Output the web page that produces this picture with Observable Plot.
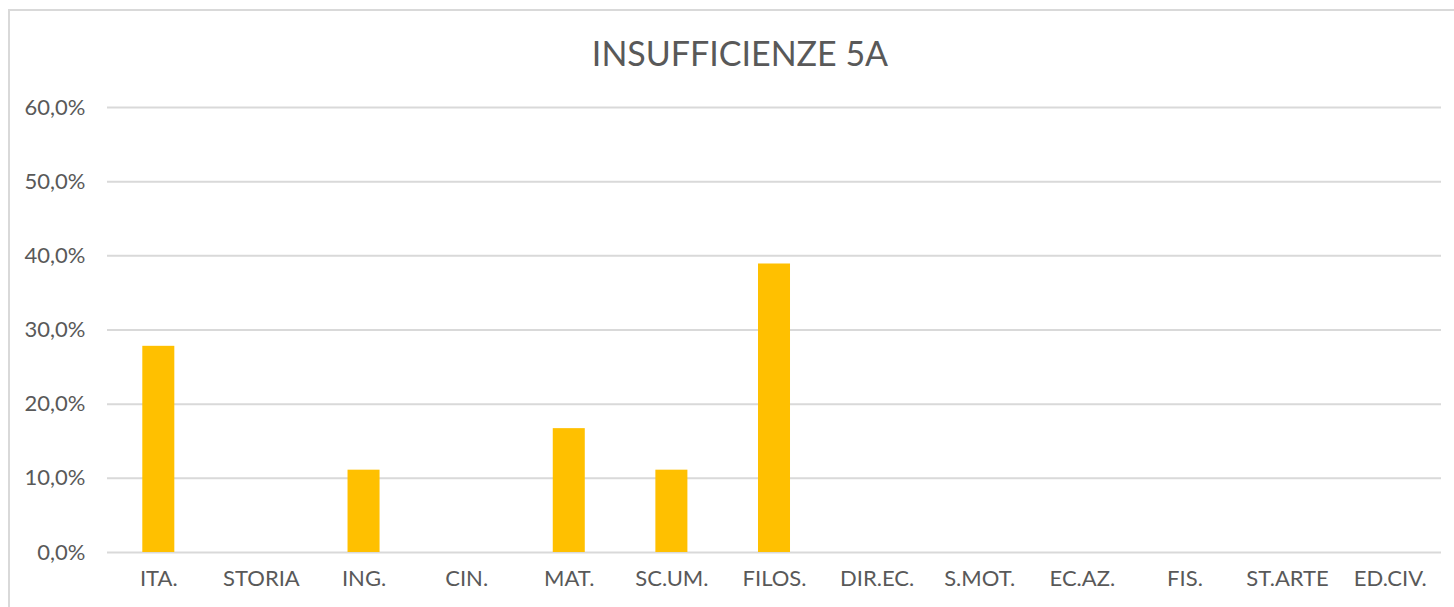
<!DOCTYPE html>
<html><head><meta charset="utf-8">
<script src="https://cdn.jsdelivr.net/npm/d3@7"></script>
<script src="https://cdn.jsdelivr.net/npm/@observablehq/plot@0.6"></script>
<style>
html,body{margin:0;padding:0;background:#fff;width:1454px;height:607px;overflow:hidden;}
#frame{position:absolute;left:8px;top:9px;width:1460px;height:640px;border:2px solid #d9d9d9;box-sizing:border-box;}
#title{position:absolute;left:0;top:33px;width:1480px;text-align:center;font-family:Lato,sans-serif;font-size:34px;color:#595959;line-height:40px;}
#chart{position:absolute;left:0;top:85px;}
</style></head>
<body>
<div id="frame"></div>
<div id="title">INSUFFICIENZE 5A</div>
<div id="chart"></div>
<script>
const subjects = ["ITA.","STORIA","ING.","CIN.","MAT.","SC.UM.","FILOS.","DIR.EC.","S.MOT.","EC.AZ.","FIS.","ST.ARTE","ED.CIV."];
const values = [0.278,0,0.111,0,0.167,0.111,0.389,0,0,0,0,0,0];
const yTicks = [0,0.1,0.2,0.3,0.4,0.5,0.6];
const data = subjects.map((s,i)=>({subject:s,value:values[i]}));
const fmt = v => (v*100).toFixed(1).replace(".", ",") + "%";
const chart = Plot.plot({
  width:1454, height:522,
  marginLeft:107, marginRight:13, marginTop:22, marginBottom:55,
  style:{fontFamily:"Lato,sans-serif", fontSize:"22px", color:"#595959", background:"transparent"},
  x:{domain:subjects, paddingInner:0.688, paddingOuter:0.344, round:false, label:null, tickSize:0, tickPadding:18},
  y:{domain:[0,0.6], ticks:yTicks, tickFormat:fmt, label:null, tickSize:0, tickPadding:22},
  marks:[
    Plot.ruleY(yTicks,{stroke:"#d9d9d9", strokeWidth:2}),
    Plot.barY(data,{x:"subject", y:"value", fill:"#FFC000"})
  ]
});
document.getElementById("chart").appendChild(chart);
</script>
</body></html>
